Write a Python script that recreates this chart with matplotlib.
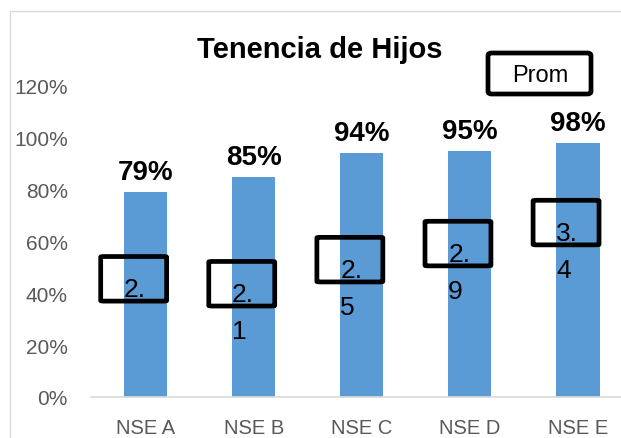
import matplotlib.pyplot as plt
from matplotlib.patches import FancyBboxPatch, Rectangle

categories = ["NSE A", "NSE B", "NSE C", "NSE D", "NSE E"]
tenencia = [79, 85, 94, 95, 98]
# average number of children, shown as broken data labels ("2." + wrapped digit)
prom_first = ["2.", "2.", "2.", "2.", "3."]
prom_second = ["", "1", "5", "9", "4"]
# vertical anchor (in % axis units) where each Prom label box sits
prom_label_y = [45.6, 43.7, 53.0, 59.2, 67.3]

W, H = 621, 439
fig = plt.figure(figsize=(W / 100, H / 100), dpi=100)
plt.rcParams["font.family"] = ["Liberation Sans", "DejaVu Sans"]

# light chart-area border
fig.patches.append(Rectangle((10 / W, -0.1), 1.2, 1 - 12 / H + 0.1,
                             transform=fig.transFigure, fill=False,
                             edgecolor="#d9d9d9", linewidth=1))

ax = fig.add_axes([91.5 / W, 41 / H, (632 - 91.5) / W, (398 - 87) / H])
x = range(len(categories))
ax.bar(x, tenencia, width=0.40, color="#5b9bd5", zorder=2)
ax.set_xlim(-0.5, 4.5)
ax.set_ylim(0, 120)
ax.set_yticks(range(0, 121, 20))
ax.set_yticklabels([f"{v}%" for v in range(0, 121, 20)])
ax.set_xticks(list(x))
ax.set_xticklabels(categories)
ax.tick_params(axis="y", length=0, pad=17, labelsize=15, labelcolor="#595959")
ax.tick_params(axis="x", length=0, pad=15, labelsize=14.5, labelcolor="#595959")
for s in ["top", "right", "left"]:
    ax.spines[s].set_visible(False)
ax.spines["bottom"].set_color("#d9d9d9")
ax.spines["bottom"].set_linewidth(1.2)
ax.patch.set_visible(False)

for i, v in enumerate(tenencia):
    ax.text(i, v + 5, f"{v}%", ha="center", va="baseline",
            fontsize=20, fontweight="bold", color="black", zorder=4)

for i, yc in enumerate(prom_label_y):
    ax.add_patch(FancyBboxPatch((i - 0.11 - 0.305, yc - 8.6), 0.61, 17.2,
                                boxstyle="round,pad=0,rounding_size=0.03",
                                fill=False, edgecolor="black", linewidth=3.4,
                                zorder=5, mutation_aspect=8))
    ax.text(i - 0.2, yc - 6.8, prom_first[i], ha="left", va="baseline",
            fontsize=19, color="black", zorder=6)
    if prom_second[i]:
        ax.text(i - 0.2, yc - 6.8 - 14.3, prom_second[i], ha="left",
                va="baseline", fontsize=19, color="black", zorder=6)

fig.text(320 / W, 1 - 50 / H, "Tenencia de Hijos", ha="center", va="center",
         fontsize=21, fontweight="bold", color="black")

fig.patches.append(FancyBboxPatch((488 / W, 1 - 95 / H), 103 / W, 41 / H,
                                  boxstyle="round,pad=0,rounding_size=0.006",
                                  transform=fig.transFigure, fill=False,
                                  edgecolor="black", linewidth=3.4))
fig.text(540 / W, 1 - 76 / H, "Prom", ha="center", va="center",
         fontsize=17, color="black")

fig.savefig("out.png", dpi=100)
